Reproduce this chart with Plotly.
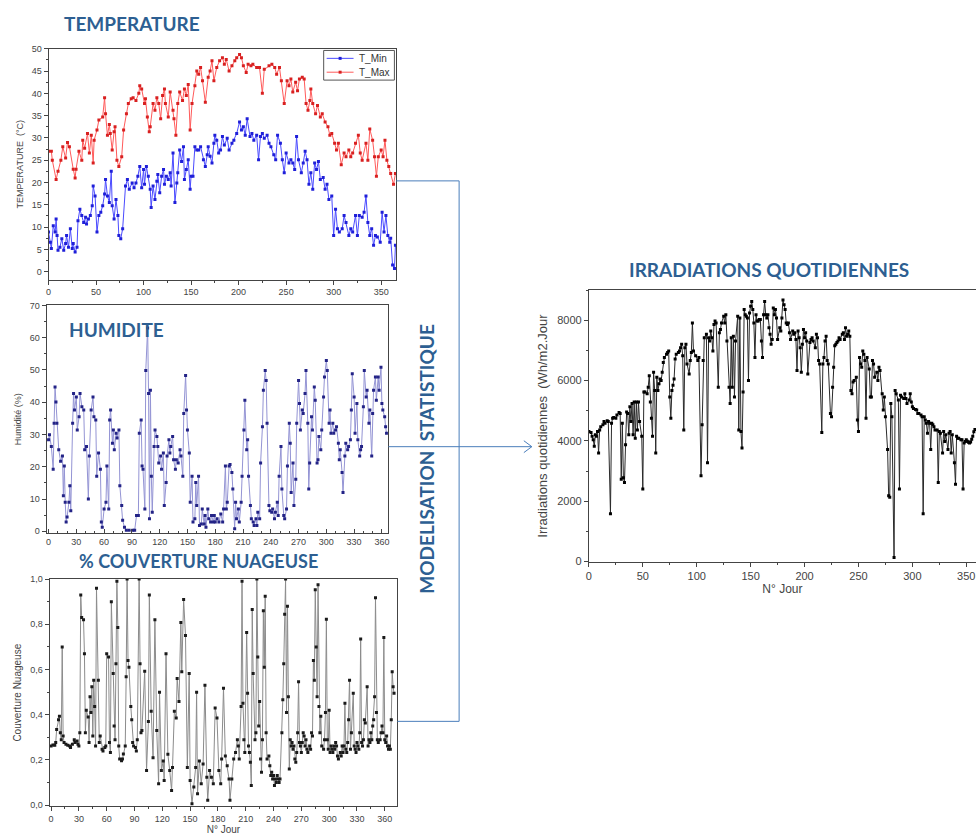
import plotly.graph_objects as go

W, H = 977, 839


def px(x):
    return x / W


def py(y):
    return 1 - y / H


# ---------------- data ----------------
TMAX_DAYS = [0, 3, 4, 8, 10, 13, 15, 18, 20, 22,
             26, 28, 29, 32, 35, 36, 38, 41, 43, 45,
             47, 48, 51, 53, 57, 59, 60, 62, 64, 65,
             67, 69, 70, 72, 74, 77, 79, 82, 84, 87,
             89, 92, 95, 96, 98, 101, 102, 104, 106, 107,
             110, 112, 114, 116, 118, 120, 122, 123, 126, 128,
             131, 132, 134, 136, 138, 141, 143, 145, 147, 149,
             151, 154, 156, 158, 160, 162, 165, 168, 170, 172,
             174, 177, 180, 183, 185, 187, 190, 193, 196, 198,
             201, 203, 205, 208, 210, 213, 215, 219, 222, 225,
             227, 232, 235, 238, 240, 243, 245, 248, 251, 253,
             255, 257, 260, 262, 264, 267, 269, 271, 273, 275,
             276, 278, 281, 283, 286, 288, 291, 294, 296, 298,
             301, 303, 305, 308, 311, 313, 316, 318, 320, 323,
             326, 328, 330, 334, 336, 338, 341, 343, 345, 347,
             350, 352, 354, 356, 358, 360, 363, 365]
TMAX_VALS = [27, 27, 25, 20.7, 22.5, 25, 28, 25.5, 29, 28,
             23, 21, 23, 27, 25, 29.5, 27.7, 31, 26.6, 30.6,
             24.4, 29.5, 31.8, 34, 34.7, 39, 35.4, 30.6, 33, 31,
             27.3, 31.4, 32.5, 25, 23.6, 25.8, 31.8, 35.4, 37.7, 38.8,
             39, 38.4, 40, 41.7, 41, 37.7, 38.8, 34.7, 31.4, 32.5,
             37.7, 36.2, 39, 37.7, 34.3, 39.5, 41, 37.7, 34.7, 40.3,
             36.2, 34.3, 30.6, 37.7, 40.3, 38.4, 41, 39.5, 42, 31.8,
             37.7, 41.7, 45, 44.3, 45.8, 42.8, 38, 43.6, 45, 47.3,
             42.8, 45.8, 47.3, 48, 46.5, 47.6, 45, 46.2, 47.3, 48,
             48.7, 48, 46.2, 44.7, 46.5, 46.2, 46.5, 45.8, 45.8, 40,
             45.4, 46.2, 46.5, 45.8, 44.3, 45.8, 42.8, 37.7, 42.8, 41.7,
             43.2, 40.3, 42.5, 40.6, 43.2, 43.6, 43.2, 37.7, 36.2, 38.4,
             41, 37.7, 35.4, 37.3, 34.7, 35.4, 33.6, 32.5, 30.6, 31,
             28.8, 27.3, 28.8, 24, 26.6, 25.8, 27.3, 25.8, 26.6, 28.8,
             30.6, 26.6, 25, 28.8, 25, 32, 29.5, 25.8, 21.4, 25.8,
             27.3, 25.8, 29.5, 25, 23.6, 22, 19.6, 22]

TMIN_DAYS = [0, 2, 3, 5, 7, 8, 9, 10, 12, 14,
             16, 18, 19, 21, 23, 25, 26, 28, 30, 31,
             33, 35, 37, 39, 40, 42, 44, 46, 47, 49,
             51, 53, 55, 57, 59, 60, 62, 64, 66, 67,
             69, 71, 73, 74, 76, 78, 81, 83, 85, 88,
             90, 92, 94, 96, 98, 100, 101, 103, 105, 107,
             108, 110, 112, 114, 115, 117, 119, 121, 122, 124,
             126, 128, 129, 131, 133, 135, 136, 138, 140, 142,
             143, 145, 147, 149, 150, 152, 154, 156, 158, 160,
             163, 165, 167, 168, 170, 172, 174, 175, 177, 179,
             181, 183, 185, 188, 190, 193, 195, 198, 201, 203,
             205, 207, 209, 212, 214, 216, 219, 221, 223, 225,
             227, 230, 232, 234, 237, 239, 241, 244, 246, 248,
             250, 253, 255, 257, 259, 261, 263, 266, 268, 270,
             272, 274, 276, 278, 280, 282, 284, 286, 289, 291,
             293, 295, 298, 300, 302, 304, 306, 309, 311, 313,
             316, 318, 320, 323, 325, 327, 330, 332, 334, 336,
             338, 340, 342, 344, 346, 349, 351, 353, 355, 357,
             359, 360, 362, 364, 365]
TMIN_VALS = [8.9, 6.6, 5.2, 10.3, 8.9, 11.8, 8.1, 4.8, 5.5, 7.4,
             4.8, 6.3, 8.1, 5.5, 9.6, 5.2, 6.3, 4.4, 5.5, 11.4,
             14, 12.6, 11, 12.2, 10.7, 11.8, 12.6, 14.8, 19.2, 17,
             8.9, 12.6, 13.3, 14.8, 17.4, 20.7, 17, 15.5, 22.5, 14.8,
             11.8, 16.2, 12.6, 8.1, 7.4, 9.6, 19.2, 20.7, 18.5, 19.9,
             18.8, 19.9, 21.4, 23.6, 18.8, 22.9, 19.6, 23.6, 21.4, 18.5,
             14.4, 19.2, 16.2, 20.3, 21.8, 17.7, 21.4, 22.9, 19.6, 21.4,
             20.7, 22.2, 19.2, 26.6, 15.5, 19.9, 22.2, 27.3, 24.7, 28,
             20.7, 22.9, 25.1, 18.5, 21.4, 21.4, 28, 27.3, 27.3, 28,
             25.1, 23.6, 26.2, 28, 25.9, 24.4, 28.8, 30.6, 29.5, 26.6,
             27.3, 30.3, 28.4, 29.9, 27.3, 28.8, 29.5, 31, 33.6, 31.8,
             32.5, 30.6, 34.3, 30.3, 31, 29.5, 30.6, 25.1, 30.3, 31,
             29.9, 30.6, 28.8, 28, 26.2, 25.1, 30.6, 28.8, 25.1, 22.2,
             26.6, 24.4, 25.1, 24.4, 22.9, 30.3, 25.1, 22.2, 24.4, 27,
             25.1, 19.6, 22.2, 18.5, 24.4, 22.9, 24.7, 20.7, 21.1, 18.5,
             19.6, 16.2, 17, 8.1, 14, 9.6, 8.9, 9.6, 12.6, 11,
             8.1, 9.6, 8.9, 12.6, 8.1, 12.6, 12.2, 13.3, 17, 11,
             8.1, 9.6, 5.9, 8.1, 7.8, 6.6, 13.3, 8.9, 12.6, 8.1,
             6.6, 7.5, 1.5, 0.7, 5.9]

HUM_DAYS = [0, 1, 3, 5, 6, 7, 8, 9, 11, 13,
            15, 16, 17, 18, 19, 20, 22, 23, 24, 26,
            27, 28, 30, 31, 33, 34, 36, 38, 39, 41,
            43, 44, 46, 48, 49, 51, 52, 54, 56, 57,
            58, 60, 62, 63, 65, 66, 67, 69, 70, 71,
            73, 74, 76, 77, 79, 80, 82, 84, 87, 91,
            93, 95, 97, 98, 100, 101, 102, 104, 105, 107,
            108, 109, 110, 111, 112, 114, 115, 117, 118, 119,
            121, 122, 124, 125, 127, 128, 130, 131, 132, 134,
            135, 137, 138, 140, 142, 143, 145, 146, 148, 149,
            150, 152, 153, 155, 156, 158, 159, 160, 162, 163,
            165, 166, 168, 169, 170, 172, 173, 175, 176, 178,
            179, 180, 182, 184, 186, 188, 189, 191, 192, 193,
            195, 196, 198, 199, 201, 202, 203, 205, 206, 208,
            209, 211, 212, 214, 215, 216, 218, 219, 221, 222,
            224, 225, 226, 228, 229, 231, 232, 234, 235, 236,
            238, 239, 241, 242, 244, 245, 247, 248, 249, 251,
            252, 254, 255, 257, 258, 260, 261, 262, 264, 265,
            267, 268, 270, 271, 272, 274, 275, 277, 278, 280,
            281, 282, 284, 285, 287, 288, 290, 291, 292, 294,
            295, 297, 298, 300, 301, 303, 304, 305, 307, 308,
            310, 311, 313, 314, 315, 317, 318, 320, 321, 323,
            324, 326, 327, 328, 330, 331, 333, 334, 336, 337,
            338, 340, 341, 343, 344, 346, 347, 349, 350, 351,
            353, 354, 356, 357, 359, 360, 361, 363, 364, 365]
HUM_VALS = [28.4, 29.9, 26.3, 19.2, 33.5, 44.7, 40.1, 33.5, 25.3, 21.7,
            23.3, 11, 20.2, 9, 2.9, 4.4, 9, 14.1, 6.4, 33.5,
            42.7, 37.6, 41.6, 31.4, 35.5, 42.7, 38.6, 37.6, 25.3, 26.3,
            10, 23.3, 37.6, 41.6, 35.5, 34.5, 17.1, 24.3, 19.2, 2.9,
            1.3, 6.9, 9, 20.2, 6.9, 34.5, 37.6, 27.3, 31.4, 25.3,
            30.4, 28.9, 31.4, 14.1, 8, 3.4, 1.3, 0.3, 0.3, 0.3,
            0.3, 4.9, 4.9, 30.4, 34.5, 20.2, 19.2, 6.9, 49.8, 63,
            42.7, 3.9, 43.7, 17.1, 5.9, 26.3, 31.4, 29.4, 26.3, 21.2,
            23.3, 19.2, 24.3, 8, 15.1, 23.3, 28.4, 24.3, 26.3, 29.4,
            22.2, 19.2, 22.2, 21.2, 25.3, 23.3, 17.1, 36.5, 48.3, 37.6,
            31.4, 24.3, 9, 17.1, 2.9, 3.9, 15.1, 8, 17.1, 1.8,
            2.3, 6.9, 2.3, 4.9, 1.3, 6.9, 3.9, 2.9, 4.9, 2.9,
            4.9, 2.9, 3.9, 2.9, 5.4, 2.9, 6.9, 20.2, 6.9, 9,
            20.2, 20.7, 18.2, 13.1, 0.8, 9, 3.9, 6.9, 2.9, 9,
            17.1, 31.4, 40.6, 25.3, 28.4, 17.1, 8, 3.9, 2.9, 1.8,
            3.9, 1.8, 5.9, 3.9, 21.2, 32.4, 43.7, 49.8, 46.7, 33.5,
            8, 6.4, 5.9, 6.9, 3.9, 5.9, 9, 4.9, 17.1, 26.3,
            13.1, 4.9, 3.9, 6.9, 20.2, 33.5, 27.3, 12, 21.2, 8,
            16.1, 33.5, 46.7, 39.6, 31.4, 37.6, 36.5, 42.7, 49.8, 33.5,
            13.1, 21.2, 35.5, 31.4, 44.7, 40.6, 21.2, 22.2, 29.4, 25.3,
            31.4, 41.6, 47.8, 52.9, 49.8, 33.5, 37.6, 30.4, 33.5, 30.4,
            31.4, 32.4, 27.3, 22.2, 25.3, 18.2, 12, 23.3, 27.3, 25.3,
            26.3, 28.4, 37.6, 48.8, 41.6, 30.4, 39.6, 28.4, 23.3, 25.3,
            26.3, 38.6, 49.8, 41.6, 43.7, 33.5, 37.6, 23.3, 36.5, 43.7,
            47.8, 40.6, 47.8, 43.7, 50.8, 39.6, 37.6, 35.5, 32.4, 30.4]

CLOUD_DAYS = [0, 2, 4, 5, 6, 8, 9, 10, 11, 12,
              13, 14, 16, 18, 20, 21, 23, 25, 26, 28,
              29, 30, 31, 32, 33, 35, 36, 37, 38, 40,
              41, 42, 43, 44, 45, 46, 47, 48, 49, 51,
              52, 53, 55, 56, 58, 59, 60, 62, 63, 64,
              65, 67, 68, 69, 70, 71, 72, 73, 74, 76,
              77, 78, 80, 81, 82, 83, 84, 86, 87, 88,
              89, 91, 92, 93, 95, 96, 97, 98, 101, 103,
              105, 106, 108, 110, 112, 114, 116, 117, 119, 121,
              122, 124, 126, 128, 130, 131, 133, 135, 136, 138,
              140, 141, 143, 145, 147, 149, 150, 152, 154, 156,
              157, 158, 160, 162, 164, 166, 168, 169, 171, 173,
              175, 177, 179, 181, 183, 184, 186, 188, 190, 192,
              193, 195, 197, 199, 201, 202, 203, 205, 206, 207,
              208, 209, 211, 212, 213, 214, 215, 216, 217, 218,
              220, 221, 222, 223, 224, 225, 226, 227, 228, 229,
              230, 231, 232, 233, 235, 236, 237, 238, 239, 240,
              241, 242, 243, 244, 245, 246, 247, 249, 250, 251,
              252, 253, 254, 255, 256, 257, 258, 259, 260, 261,
              262, 263, 264, 265, 266, 267, 268, 269, 270, 271,
              272, 273, 274, 275, 276, 277, 279, 280, 281, 282,
              283, 284, 285, 286, 287, 288, 289, 290, 291, 292,
              294, 295, 296, 297, 298, 299, 300, 301, 302, 303,
              304, 305, 306, 307, 308, 309, 310, 312, 313, 314,
              315, 316, 317, 318, 319, 320, 321, 322, 323, 324,
              326, 327, 328, 329, 330, 331, 332, 333, 334, 335,
              336, 337, 338, 339, 341, 342, 343, 344, 345, 346,
              347, 348, 349, 350, 351, 352, 353, 355, 356, 357,
              358, 359, 360, 361, 362, 363, 364, 365, 366, 367,
              368, 369, 370]
CLOUD_VALS = [.262, .266, .265, .277, .335, .378, .393, .32, .29, .70,
              .306, .277, .27, .265, .262, .255, .27, .29, .277, .284,
              .27, .262, .32, .93, .83, .82, .67, .32, .42, .39,
              .277, .48, .41, .524, .306, .553, .437, .262, .96, .553,
              .277, .306, .247, .24, .255, .262, .67, .655, .277, .233,
              .90, .582, .35, .29, .626, .99, .786, .262, .204, .197,
              .204, .226, .262, .568, 1.0, .64, .61, .437, .378, .277,
              .262, .255, .24, .29, 1.0, .626, .32, .33, .592, .153,
              .37, .93, .415, .21, .82, .33, .095, .50, .153, .196,
              .109, .67, .225, .153, .065, .167, .415, .386, .56, .459,
              .808, .59, .91, .75, .167, .582, .109, .007, .08, .167,
              .50, .051, .196, .095, .182, .53, .124, .022, .153, .124,
              .095, .43, .386, .153, .095, .204, .517, .218, .175, .116,
              .022, .116, .204, .233, .29, .262, .204, .437, .99, .451,
              .29, .233, .764, .495, .262, .233, .19, .087, .866, .582,
              .29, .32, 1.0, .655, .35, .459, .204, .146, .29, .86,
              .61, .924, .32, .204, .218, .175, .131, .146, .116, .131,
              .087, .116, .10, .131, .116, .10, .116, .32, .466, .626,
              .844, 1.0, .41, .88, .48, .16, .29, .262, .277, .247,
              .262, .204, .19, .233, .32, .546, .277, .262, .233, .277,
              .32, .306, .262, .29, .247, .233, .262, .247, .32, .306,
              .64, .553, .953, .70, .48, .975, .437, .32, .393, .262,
              .247, .29, .41, .822, .29, .247, .42, .233, .262, .247,
              .233, .262, .247, .277, .262, .218, .204, .233, .218, .262,
              .233, .262, .451, .247, .233, .277, .378, .553, .247, .32,
              .495, .262, .247, .233, .277, .262, .247, .32, .735, .277,
              .262, .29, .378, .364, .524, .262, .29, .277, .32, .29,
              .35, .378, .48, .917, .41, .29, .277, .29, .32, .35,
              .32, .742, .29, .277, .306, .262, .247, .262, .247, .378,
              .59, .524, .495]

IRR_DAYS = [0, 2, 3, 4, 5, 6, 7, 8, 9, 10,
            11, 13, 14, 15, 17, 18, 20, 21, 22, 23,
            25, 26, 28, 29, 30, 31, 32, 33, 34, 35,
            36, 37, 38, 39, 40, 41, 42, 43, 44, 45,
            46, 47, 49, 50, 51, 52, 54, 55, 56, 57,
            58, 59, 60, 61, 62, 63, 64, 65, 66, 67,
            68, 69, 70, 72, 73, 74, 75, 76, 77, 78,
            79, 80, 81, 83, 84, 85, 86, 87, 88, 89,
            90, 91, 93, 94, 95, 96, 97, 99, 101, 102,
            104, 105, 106, 107, 109, 110, 111, 112, 113, 114,
            115, 116, 117, 118, 120, 121, 122, 123, 125, 126,
            127, 128, 130, 131, 132, 133, 134, 135, 136, 138,
            139, 140, 141, 142, 143, 144, 145, 146, 147, 148,
            149, 150, 151, 152, 153, 154, 155, 156, 157, 158,
            159, 160, 161, 162, 163, 164, 165, 166, 167, 168,
            169, 170, 171, 172, 173, 174, 175, 177, 178, 179,
            180, 181, 182, 183, 184, 185, 186, 187, 189, 190,
            191, 192, 193, 194, 195, 196, 197, 198, 199, 200,
            201, 202, 203, 205, 206, 207, 208, 210, 211, 212,
            213, 214, 216, 217, 218, 219, 220, 221, 222, 224,
            225, 226, 227, 228, 229, 230, 231, 232, 233, 235,
            236, 237, 238, 239, 240, 241, 242, 243, 244, 245,
            246, 248, 249, 250, 251, 252, 253, 254, 255, 256,
            257, 258, 260, 261, 262, 263, 264, 265, 267, 268,
            269, 270, 272, 273, 274, 275, 277, 278, 279, 280,
            281, 283, 284, 285, 287, 288, 289, 290, 292, 293,
            294, 295, 297, 298, 299, 300, 301, 303, 304, 305,
            306, 308, 309, 310, 311, 312, 313, 314, 315, 316,
            317, 318, 319, 320, 321, 323, 324, 325, 326, 328,
            329, 330, 331, 333, 334, 335, 336, 337, 339, 340,
            341, 342, 343, 345, 346, 347, 348, 349, 350, 351,
            352, 353, 354, 355, 356, 357, 358]
IRR_VALS = [4310, 4280, 4150, 4040, 3820, 4200, 4150, 4310, 3600, 4360,
            4470, 4530, 4640, 4580, 4670, 4640, 1580, 4580, 4750, 4770,
            4750, 4860, 4940, 4910, 2730, 4580, 2780, 2620, 3870, 4960,
            4910, 4200, 5130, 4640, 5240, 4200, 5290, 4090, 5290, 4360,
            5290, 4640, 4150, 2400, 5620, 5620, 5560, 5780, 6160, 5290,
            4750, 4150, 6270, 5670, 3600, 6110, 5670, 5890, 6050, 6000,
            6270, 6600, 6760, 6870, 6930, 6980, 5450, 4750, 5670, 5840,
            6050, 6710, 6870, 6930, 6980, 7090, 7200, 6820, 4360, 7090,
            7200, 6550, 6220, 6660, 6930, 7910, 6980, 6820, 6660, 6760,
            2840, 4530, 6660, 7420, 7530, 3270, 7420, 7310, 7640, 7420,
            6980, 7860, 7970, 7910, 5780, 7580, 7690, 7910, 8130, 7910,
            8180, 7310, 5780, 5240, 7420, 5780, 7470, 5450, 7310, 8130,
            4360, 8070, 4310, 3760, 5620, 8350, 8180, 8130, 8070, 6000,
            8240, 8460, 8620, 8350, 7910, 6760, 8180, 7970, 7970, 8020,
            8020, 7310, 6760, 8180, 8620, 8180, 8070, 8180, 7750, 7530,
            7200, 7360, 8400, 8180, 8350, 8070, 7360, 7750, 7640, 8070,
            8670, 8510, 8350, 7910, 7860, 7910, 7580, 7360, 7640, 7530,
            7580, 7360, 6330, 7640, 7420, 7090, 6270, 7200, 7690, 7420,
            7580, 7310, 6220, 7260, 7360, 7420, 7310, 7090, 7530, 7420,
            6660, 6550, 4280, 6550, 6760, 7310, 7470, 6660, 6550, 4910,
            4800, 5780, 6440, 7150, 7200, 7260, 7310, 7420, 7360, 7530,
            7580, 7360, 7750, 7470, 7530, 7640, 7470, 5670, 5560, 5950,
            6000, 6110, 4690, 4310, 6760, 6550, 6440, 6980, 6870, 6660,
            4750, 6760, 6380, 5450, 5450, 6660, 6550, 6110, 6270, 6000,
            6440, 6330, 5560, 5020, 5450, 4800, 3710, 2180, 2130, 5240,
            4800, 130, 5670, 5560, 5350, 2400, 5510, 5450, 5400, 5560,
            5400, 5240, 5350, 5560, 5290, 5130, 5070, 5040, 5020, 4910,
            4910, 4860, 4800, 1580, 4800, 4690, 4580, 4250, 4640, 4580,
            3710, 4580, 4530, 4470, 4360, 4360, 2620, 4310, 4250, 3600,
            4310, 3980, 4200, 3710, 4250, 4310, 3600, 4200, 3270, 2560,
            4150, 4090, 4090, 4040, 4040, 2400, 3930, 3980, 4040, 3990,
            3950, 3930, 3960, 4050, 4150, 4300, 4380]

TEMP_TICKS = [0, 50, 100, 150, 200, 250, 300, 350]
DAY30_TICKS = list(range(0, 361, 30))
CLOUD_TICKVALS = [0, 0.2, 0.4, 0.6, 0.8, 1.0]
CLOUD_TICKTEXT = ["0,0", "0,2", "0,4", "0,6", "0,8", "1,0"]
LEGEND_NAMES = ["T_Min", "T_Max"]

TITLE_BLUE = "#2d5f92"
CONNECT = "#4a7ebb"
AXC = "#444444"
SANS = "Liberation Sans, Arial, sans-serif"
TICKFONT = dict(family=SANS, size=9, color="#444444")
TMIN_LINE, TMIN_MARK = "#4a4aff", "#1f1fd8"
TMAX_LINE, TMAX_MARK = "#ff5a5a", "#d82020"

fig = go.Figure()


def series(x, y, ax, line_color, marker_color, name=None):
    fig.add_trace(go.Scatter(
        x=x, y=y, xaxis="x" + ax, yaxis="y" + ax, mode="lines+markers",
        name=name, showlegend=False,
        line=dict(color=line_color, width=1),
        marker=dict(symbol="square", size=3, color=marker_color, line=dict(width=0)),
    ))


series(TMIN_DAYS, TMIN_VALS, "", TMIN_LINE, TMIN_MARK, name=LEGEND_NAMES[0])
series(TMAX_DAYS, TMAX_VALS, "", TMAX_LINE, TMAX_MARK, name=LEGEND_NAMES[1])
series(HUM_DAYS, HUM_VALS, "2", "#9494d4", "#232386")
series(CLOUD_DAYS, CLOUD_VALS, "3", "#8c8c8c", "#1a1a1a")
series(IRR_DAYS, IRR_VALS, "4", "#2a2a2a", "#000000")


def axstyle(**kw):
    d = dict(showline=True, linecolor=AXC, linewidth=1, mirror=True,
             ticks="outside", ticklen=4, tickwidth=1, tickcolor=AXC,
             showgrid=False, zeroline=False, tickfont=TICKFONT)
    d.update(kw)
    return d


def minor(dt, ticks="outside"):
    return dict(ticks=ticks, ticklen=2, dtick=dt, tickcolor=AXC, showgrid=False)


title_font = dict(family=SANS, size=9, color="#444444")
big_tick = dict(family=SANS, size=11, color="#444444")

fig.update_layout(
    width=W, height=H,
    margin=dict(l=0, r=0, t=0, b=0),
    paper_bgcolor="white", plot_bgcolor="white",
    showlegend=False,
    # temperature
    xaxis=axstyle(domain=[px(45.7), px(395)], range=[0, 366], anchor="y",
                  tickvals=TEMP_TICKS, minor=minor(25)),
    yaxis=axstyle(domain=[py(278), py(44.3)], range=[-1.8, 50], anchor="x",
                  dtick=5, tick0=0, minor=minor(2.5),
                  title=dict(text="TEMPERATURE  (°C)", font=title_font, standoff=6)),
    # humidity
    xaxis2=axstyle(domain=[px(43.7), px(386.5)], range=[-2.2, 366.5], anchor="y2",
                   tickvals=DAY30_TICKS, ticks="inside", minor=minor(10, "inside")),
    yaxis2=axstyle(domain=[py(534.3), py(304)], range=[-0.5, 70], anchor="x2",
                   dtick=10, tick0=0, minor=minor(5),
                   title=dict(text="Humidité (%)", font=title_font, standoff=6)),
    # cloud cover
    xaxis3=axstyle(domain=[px(46.7), px(396)], range=[-1.7, 373.6], anchor="y3",
                   tickvals=DAY30_TICKS, minor=minor(15),
                   title=dict(text="N° Jour", font=dict(title_font, size=10), standoff=2)),
    yaxis3=axstyle(domain=[py(811), py(581)], range=[-0.005, 1.0], anchor="x3",
                   tickvals=CLOUD_TICKVALS, ticktext=CLOUD_TICKTEXT, minor=minor(0.1),
                   title=dict(text="Couverture Nuageuse", font=dict(title_font, size=10), standoff=6)),
    # irradiation
    xaxis4=axstyle(domain=[px(588.3), 1.0], range=[0, 359], anchor="y4",
                   dtick=50, tick0=0, minor=minor(25), tickfont=big_tick,
                   title=dict(text="N° Jour", font=dict(title_font, size=12), standoff=0)),
    yaxis4=axstyle(domain=[py(564), py(288.3)], range=[-25, 9005], anchor="x4",
                   mirror=False, dtick=2000, tick0=0, minor=minor(1000), tickfont=big_tick,
                   title=dict(text="Irradiations quotidiennes\u00a0\u00a0(Wh/m2.Jour",
                              font=dict(title_font, size=13), standoff=6)),
)

TITLE_FONT = dict(family="Lato, Open Sans, sans-serif", size=19, color=TITLE_BLUE)
annots = [
    ("<b>TEMPERATURE</b>", 130, 19, 0, 19),
    ("<b>HUMIDITE</b>", 114, 328, 0, 19),
    ("<b>% COUVERTURE NUAGEUSE</b>", 196, 563, 0, 18),
    ("<b>IRRADIATIONS QUOTIDIENNES</b>", 769, 268, 0, 19),
    ("<b>MODELISATION\u00a0\u00a0STATISTIQUE</b>", 425, 459, -90, 19),
]
for text, ax_, ay_, ang, fs in annots:
    fig.add_annotation(text=text, x=px(ax_), y=py(ay_), xref="paper", yref="paper",
                       showarrow=False, textangle=ang, font=dict(TITLE_FONT, size=fs),
                       xanchor="center", yanchor="middle")

# legend box for the temperature panel
fig.add_shape(type="rect", xref="paper", yref="paper",
              x0=px(322), y0=py(46), x1=px(393), y1=py(76),
              line=dict(color="#555555", width=1), fillcolor="white")
for (name, lc, mc), yy in zip([(LEGEND_NAMES[0], TMIN_LINE, TMIN_MARK),
                               (LEGEND_NAMES[1], TMAX_LINE, TMAX_MARK)], [54, 68]):
    fig.add_shape(type="line", xref="paper", yref="paper",
                  x0=px(325), y0=py(yy), x1=px(352), y1=py(yy),
                  line=dict(color=lc, width=1))
    fig.add_shape(type="rect", xref="paper", yref="paper",
                  x0=px(337), y0=py(yy - 1.5), x1=px(340), y1=py(yy + 1.5),
                  line=dict(width=0), fillcolor=mc)
    fig.add_annotation(text=name, x=px(355), y=py(yy), xref="paper", yref="paper",
                       showarrow=False, xanchor="left", yanchor="middle",
                       font=dict(family=SANS, size=10, color="#333333"))

# connector lines
segments = [
    (395, 178, 458, 178),
    (458, 178, 458, 725),
    (396, 725, 458, 725),
    (387, 447, 531, 447),
    (523, 441, 531, 447),
    (523, 453, 531, 447),
]
for x0, y0, x1, y1 in segments:
    fig.add_shape(type="line", xref="paper", yref="paper",
                  x0=px(x0), y0=py(y0), x1=px(x1), y1=py(y1),
                  line=dict(color=CONNECT, width=1))

fig.write_html("out.html")
